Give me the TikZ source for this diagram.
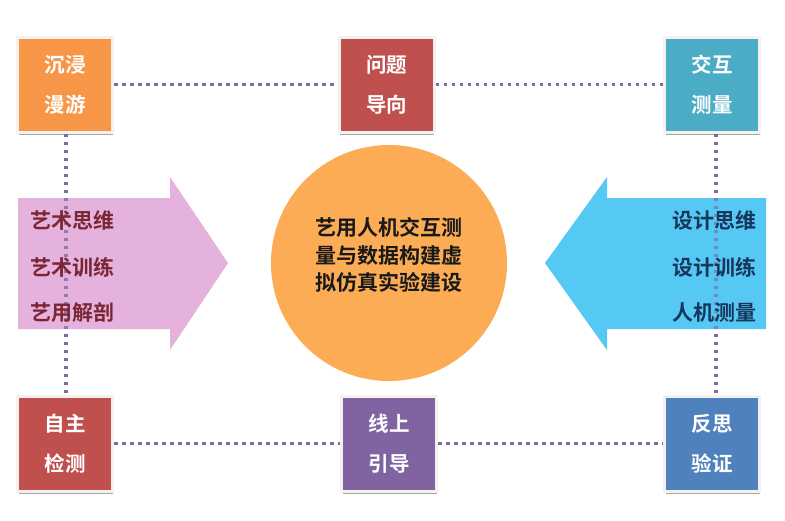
\documentclass[tikz,border=0pt]{standalone}
\usepackage{fontspec}
\newfontfamily\cjk{Noto Sans CJK SC}[BoldFont={* Bold}]
\definecolor{cOrange}{HTML}{F79646}
\definecolor{cRed}{HTML}{C0504D}
\definecolor{cTeal}{HTML}{4BACC6}
\definecolor{cPurple}{HTML}{8064A2}
\definecolor{cBlue}{HTML}{4F81BD}
\definecolor{cPink}{HTML}{E5B2DD}
\definecolor{cSky}{HTML}{55C8F3}
\definecolor{cCircle}{HTML}{FBAC55}
\definecolor{cDot}{HTML}{7F6A9F}
\definecolor{cMaroon}{HTML}{7A2635}
\definecolor{cNavy}{HTML}{17365D}
\definecolor{cFrame}{HTML}{F4F1EF}
\tikzset{
  box/.style={draw=cFrame, line width=3pt, minimum width=95pt, minimum height=95pt,
    inner sep=0pt, text=white, align=center,
    font=\cjk\bfseries\fontsize{20.5}{40}\selectfont},
  boxshadow/.style={fill=black!35, draw=none, minimum width=94pt, minimum height=95pt},
  dotline/.style={cDot, line width=3.2pt, dash pattern=on 3.5pt off 4.5pt},
  armtext/.style={font=\cjk\bfseries\fontsize{21}{24}\selectfont, inner sep=0pt},
}
\begin{document}
\begin{tikzpicture}[x=1pt,y=-1pt]
\useasboundingbox[fill=white] (0,0) rectangle (785,520);
% shadows
\foreach \px/\py in {65/84.5,386.5/84.5,712/84.5,65/443.5,389/443.5,712/443.5}
  \node[boxshadow] at (\px+0.5,\py+3) {};
% boxes
\node[box, fill=cOrange] (b1) at (65,84.5) {沉浸\\漫游};
\node[box, fill=cRed] (b2) at (386.5,84.5) {问题\\导向};
\node[box, fill=cTeal] (b3) at (712,84.5) {交互\\测量};
\node[box, fill=cRed] (b4) at (65,443.5) {自主\\检测};
\node[box, fill=cPurple] (b5) at (389,443.5) {线上\\引导};
\node[box, fill=cBlue] (b6) at (712,443.5) {反思\\验证};
% dotted connectors
\draw[dotline] (b1.east) -- (b2.west);
\draw[dotline] (b2.east) -- (b3.west);
\draw[dotline] (b4.east) -- (b5.west);
\draw[dotline] (b5.east) -- (b6.west);
\draw[dotline] ([xshift=1pt]b1.south) -- ([xshift=1pt]b4.north);
\draw[dotline] ([xshift=4pt]b3.south) -- ([xshift=4pt]b6.north);
% arrows
\fill[cPink] (18,198) -- (170,198) -- (170,177) -- (228,263) -- (170,350) -- (170,329) -- (18,329) -- cycle;
\fill[cSky] (766,198) -- (607,198) -- (607,177) -- (545,263) -- (607,350) -- (607,329) -- (766,329) -- cycle;
% dotted lines seen through the arrows
\draw[dotline, draw opacity=0.8] ([xshift=1pt]b1.south) -- ([xshift=1pt]b4.north);
\draw[dotline, draw opacity=0.65] ([xshift=4pt]b3.south) -- ([xshift=4pt]b6.north);
% arrow texts
\node[armtext, text=cMaroon, anchor=west] (l1) at (30,220) {艺术思维};
\node[armtext, text=cMaroon, anchor=west] (l2) at (30,267) {艺术训练};
\node[armtext, text=cMaroon, anchor=west] (l3) at (30,313) {艺用解剖};
\node[armtext, text=cNavy, anchor=east] (r1) at (757,220) {设计思维};
\node[armtext, text=cNavy, anchor=east] (r2) at (757,267) {设计训练};
\node[armtext, text=cNavy, anchor=east] (r3) at (757,313) {人机测量};
% circle
\node[circle, fill=cCircle, minimum size=236pt, inner sep=0pt] (c) at (389,263) {};
\node[align=center, font=\cjk\bfseries\fontsize{21}{27.5}\selectfont, text=black!90] (ct) at (389,255) {艺用人机交互测\\量与数据构建虚\\拟仿真实验建设};
\end{tikzpicture}
\end{document}
